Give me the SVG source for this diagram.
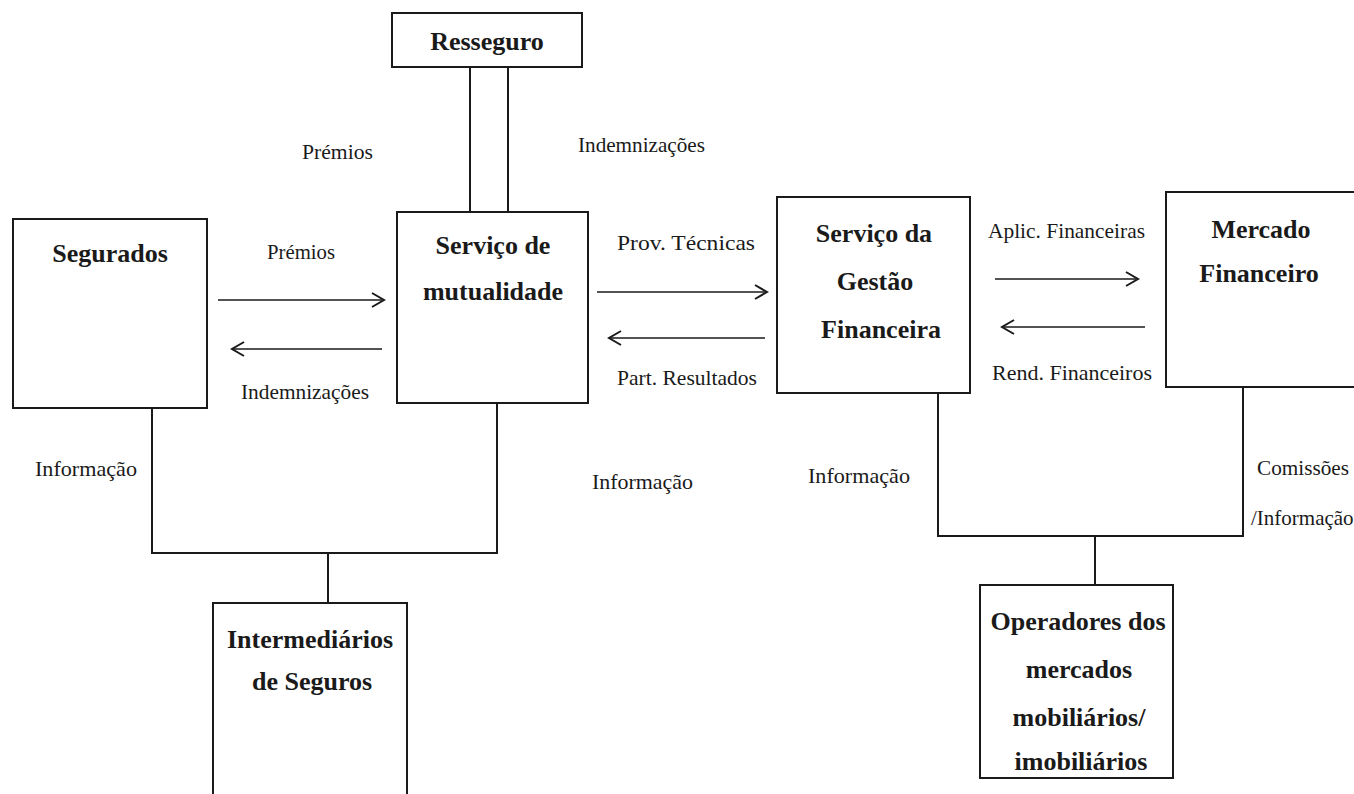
<svg xmlns="http://www.w3.org/2000/svg" width="1354" height="794" viewBox="0 0 1354 794">
<style>
.box{fill:none;stroke:#1a1a1a;stroke-width:2}
.ln{fill:none;stroke:#1a1a1a;stroke-width:2}
.ar{fill:none;stroke:#1a1a1a;stroke-width:1.6}
.hd{fill:none;stroke:#1a1a1a;stroke-width:2}
.t{font-family:"Liberation Serif","Times New Roman",serif;font-weight:bold;font-size:26px;fill:#1a1a1a;text-anchor:middle}
.l{font-family:"Liberation Serif","Times New Roman",serif;font-size:21px;fill:#1a1a1a}
</style>
<rect width="1354" height="794" fill="#fff"/>
<g id="connectors">
<line class="ln" x1="470" y1="67" x2="470" y2="212"/>
<line class="ln" x1="508" y1="67" x2="508" y2="212"/>
<polyline class="ln" points="152,408 152,553 497,553 497,403"/>
<line class="ln" x1="328" y1="553" x2="328" y2="603"/>
<polyline class="ln" points="938,393 938,536 1243,536 1243,387"/>
<line class="ln" x1="1095" y1="536" x2="1095" y2="585"/>
<line class="ar" x1="218" y1="300" x2="382" y2="300"/>
<polyline class="hd" points="372,293 384,300 372,307"/>
<line class="ar" x1="232" y1="349" x2="382" y2="349"/>
<polyline class="hd" points="244,342 232,349 244,356"/>
<line class="ar" x1="597" y1="292" x2="765" y2="292"/>
<polyline class="hd" points="755,285 767,292 755,299"/>
<line class="ar" x1="609" y1="338" x2="765" y2="338"/>
<polyline class="hd" points="621,331 609,338 621,345"/>
<line class="ar" x1="995" y1="279" x2="1136" y2="279"/>
<polyline class="hd" points="1126,272 1138,279 1126,286"/>
<line class="ar" x1="1002" y1="327" x2="1145" y2="327"/>
<polyline class="hd" points="1014,320 1002,327 1014,334"/>
<text class="l" x="302" y="159" textLength="71" lengthAdjust="spacingAndGlyphs">Prémios</text>
<text class="l" x="578" y="152" textLength="127" lengthAdjust="spacingAndGlyphs">Indemnizações</text>
<text class="l" x="267" y="259" textLength="68" lengthAdjust="spacingAndGlyphs">Prémios</text>
<text class="l" x="241" y="399" textLength="128" lengthAdjust="spacingAndGlyphs">Indemnizações</text>
<text class="l" x="617" y="250" textLength="138" lengthAdjust="spacingAndGlyphs">Prov. Técnicas</text>
<text class="l" x="617" y="385" textLength="140" lengthAdjust="spacingAndGlyphs">Part. Resultados</text>
<text class="l" x="988" y="238" textLength="157" lengthAdjust="spacingAndGlyphs">Aplic. Financeiras</text>
<text class="l" x="992" y="380" textLength="160" lengthAdjust="spacingAndGlyphs">Rend. Financeiros</text>
<text class="l" x="35" y="476" textLength="102" lengthAdjust="spacingAndGlyphs">Informação</text>
<text class="l" x="592" y="489" textLength="101" lengthAdjust="spacingAndGlyphs">Informação</text>
<text class="l" x="808" y="483" textLength="102" lengthAdjust="spacingAndGlyphs">Informação</text>
<text class="l" x="1257" y="475" textLength="92" lengthAdjust="spacingAndGlyphs">Comissões</text>
<text class="l" x="1251" y="525">/Informação</text>
</g>
<g id="resseguro">
<rect class="box" x="392" y="13" width="190" height="54"/>
<text class="t" x="487" y="50">Resseguro</text>
</g>
<g id="segurados">
<rect class="box" x="13" y="219" width="194" height="189"/>
<text class="t" x="110" y="262">Segurados</text>
</g>
<g id="mutualidade">
<rect class="box" x="397" y="212" width="191" height="191"/>
<text class="t" x="493" y="254">Serviço de</text>
<text class="t" x="493" y="300">mutualidade</text>
</g>
<g id="gestao">
<rect class="box" x="777" y="197" width="193" height="196"/>
<text class="t" x="874" y="242">Serviço da</text>
<text class="t" x="875" y="290">Gestão</text>
<text class="t" x="881" y="338">Financeira</text>
</g>
<g id="mercado">
<rect class="box" x="1166" y="192" width="220" height="195"/>
<text class="t" x="1261" y="238">Mercado</text>
<text class="t" x="1259" y="282">Financeiro</text>
</g>
<g id="intermediarios">
<rect class="box" x="213" y="603" width="194" height="220"/>
<text class="t" x="310" y="648">Intermediários</text>
<text class="t" x="312" y="690">de Seguros</text>
</g>
<g id="operadores">
<rect class="box" x="980" y="585" width="193" height="193"/>
<text class="t" x="1078" y="630">Operadores dos</text>
<text class="t" x="1079" y="678">mercados</text>
<text class="t" x="1079" y="726">mobiliários/</text>
<text class="t" x="1081" y="770">imobiliários</text>
</g>
</svg>
